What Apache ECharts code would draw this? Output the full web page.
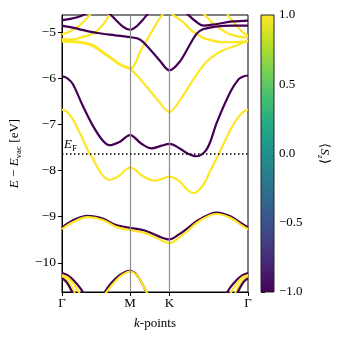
<!DOCTYPE html>
<html>
<head>
<meta charset="utf-8">
<script src="https://cdn.jsdelivr.net/npm/echarts@6/dist/echarts.min.js"></script>
<style>
  html, body { margin: 0; padding: 0; background: #fff; }
  #chart { width: 341px; height: 341px; }
</style>
</head>
<body>
<div id="chart"></div>
<script>
// high-symmetry path Γ - M - K - Γ
const kTicks = [0, 0.577, 0.911, 1.577]
const kLabels = ['Γ', 'M', 'K', 'Γ']
const eTicks = [-10, -9, -8, -7, -6, -5]
const cbTicks = [-1, -0.5, 0, 0.5, 1]
const eFermi = -7.64

// bands: [k, E] pairs, spin is <Sz> (-1 purple, +1 yellow)
const p1 = [[0,-5.96],[0.04,-5.99],[0.09,-6.12],[0.175,-6.59],[0.26,-7.02],[0.345,-7.35],[0.402,-7.45],[0.487,-7.38],[0.577,-7.23],[0.674,-7.42],[0.759,-7.52],[0.844,-7.46],[0.911,-7.42],[0.999,-7.52],[1.065,-7.63],[1.141,-7.69],[1.229,-7.53],[1.314,-6.95],[1.427,-6.30],[1.498,-6.02],[1.537,-5.96],[1.577,-5.94]]
const y1 = [[0,-6.68],[0.04,-6.72],[0.09,-6.88],[0.175,-7.31],[0.232,-7.63],[0.26,-7.73],[0.331,-8.06],[0.402,-8.20],[0.473,-8.13],[0.538,-7.99],[0.577,-7.93],[0.62,-7.98],[0.674,-8.10],[0.787,-8.22],[0.85,-8.18],[0.911,-8.13],[0.96,-8.17],[0.999,-8.24],[1.065,-8.42],[1.116,-8.49],[1.201,-8.30],[1.258,-8.0],[1.314,-7.72],[1.37,-7.42],[1.427,-7.12],[1.484,-6.88],[1.537,-6.73],[1.577,-6.68]]
const p9 = [[0,-9.23],[0.09,-9.08],[0.218,-8.98],[0.345,-9.04],[0.459,-9.18],[0.577,-9.24],[0.702,-9.30],[0.816,-9.42],[0.911,-9.49],[0.999,-9.37],[1.05,-9.28],[1.144,-9.09],[1.257,-8.94],[1.314,-8.91],[1.427,-8.99],[1.52,-9.14],[1.577,-9.23]]
const y9 = [[0,-9.27],[0.09,-9.12],[0.218,-9.01],[0.345,-9.07],[0.459,-9.22],[0.577,-9.29],[0.702,-9.35],[0.816,-9.48],[0.911,-9.57],[0.999,-9.44],[1.05,-9.34],[1.144,-9.13],[1.257,-8.97],[1.314,-8.94],[1.427,-9.02],[1.52,-9.18],[1.577,-9.27]]
const pB1 = [[0,-10.22],[0.05,-10.27],[0.1,-10.38],[0.15,-10.53],[0.19,-10.68],[0.22,-10.8]]
const yB1 = [[0,-10.26],[0.05,-10.32],[0.1,-10.46],[0.14,-10.62],[0.17,-10.76]]
const yB2 = [[0,-10.30],[0.04,-10.37],[0.08,-10.52],[0.12,-10.72]]
const pB2 = [[0,-10.33],[0.04,-10.42],[0.08,-10.6],[0.11,-10.76]]
const pB1r = [[1.577,-10.22],[1.527,-10.27],[1.477,-10.38],[1.427,-10.53],[1.39,-10.68],[1.36,-10.8]]
const yB1r = [[1.577,-10.26],[1.527,-10.32],[1.477,-10.46],[1.437,-10.62],[1.407,-10.76]]
const yB2r = [[1.577,-10.30],[1.537,-10.37],[1.497,-10.52],[1.457,-10.72]]
const pB2r = [[1.577,-10.33],[1.537,-10.42],[1.497,-10.6],[1.467,-10.76]]
const pM = [[0.33,-10.8],[0.36,-10.64],[0.42,-10.43],[0.48,-10.28],[0.53,-10.2],[0.577,-10.17],[0.62,-10.22],[0.66,-10.36],[0.70,-10.55],[0.73,-10.72]]
const yM = [[0.34,-10.8],[0.37,-10.66],[0.43,-10.46],[0.49,-10.30],[0.54,-10.22],[0.577,-10.19],[0.625,-10.24],[0.665,-10.38],[0.705,-10.57],[0.735,-10.72]]
const p2 = [[0,-4.86],[0.1,-4.91],[0.2,-4.97],[0.3,-5.02],[0.45,-5.07],[0.577,-5.11],[0.66,-5.16],[0.745,-5.37],[0.83,-5.62],[0.911,-5.83],[0.995,-5.65],[1.08,-5.29],[1.14,-5.04],[1.195,-4.94],[1.3,-4.88],[1.45,-4.86],[1.577,-4.86]]
const p3 = [[0,-4.74],[0.08,-4.71],[0.16,-4.65],[0.24,-4.55],[0.32,-4.5],[0.4,-4.6],[0.46,-4.75],[0.52,-4.89],[0.577,-4.95],[0.63,-4.88],[0.69,-4.72],[0.75,-4.55],[0.85,-4.4],[1.0,-4.45],[1.06,-4.6],[1.13,-4.76],[1.2,-4.86],[1.3,-4.83],[1.45,-4.77],[1.577,-4.75]]
const y2a = [[0,-5.18],[0.1,-5.2],[0.175,-5.22],[0.26,-5.28],[0.375,-5.48],[0.5,-5.71],[0.577,-5.79],[0.7,-6.13],[0.82,-6.5],[0.911,-6.73],[0.999,-6.48],[1.11,-6.04],[1.224,-5.65],[1.335,-5.43],[1.477,-5.29],[1.577,-5.18]]
const y2b = [[0,-5.2],[0.1,-5.22],[0.175,-5.24],[0.26,-5.3],[0.375,-5.5],[0.5,-5.72],[0.577,-5.79],[0.674,-5.37],[0.759,-5.0],[0.844,-4.65],[0.911,-4.5],[0.93,-4.6],[1.03,-4.79],[1.1,-4.97],[1.16,-5.07],[1.2,-5.13],[1.37,-5.22],[1.577,-5.2]]
const y4 = [[0,-5.15],[0.08,-5.16],[0.175,-5.11],[0.24,-5.06],[0.29,-4.99],[0.35,-4.83],[0.40,-4.64],[0.44,-4.5]]
const y4r = [[1.577,-5.12],[1.5,-5.1],[1.4,-5.02],[1.3,-4.85],[1.2,-4.6],[1.16,-4.5]]
const y5 = [[0,-5.05],[0.07,-4.98],[0.147,-4.86],[0.232,-4.64],[0.27,-4.5]]
const y5r = [[1.577,-5.08],[1.53,-5.0],[1.484,-4.87],[1.42,-4.68],[1.38,-4.5]]

const bands = [
  [p9, -1], [y9, 1],
  [pB1, -1], [yB1, 1], [yB2, 1], [pB2, -1],
  [pB1r, -1], [yB1r, 1], [yB2r, 1], [pB2r, -1],
  [pM, -1], [yM, 1],
  [y1, 1], [p1, -1],
  [y2a, 1], [y2b, 1], [y4, 1], [y4r, 1], [y5, 1], [y5r, 1],
  [p2, -1], [p3, -1]
]

const viridis = ['#440154', '#482475', '#414487', '#355f8d', '#2a788e', '#21918c', '#22a884', '#44bf70', '#7ad151', '#bddf26', '#fde725']
const font = 'Liberation Serif'
const minus = v => String(v).replace('-', '\u2212')

var chart = echarts.init(document.getElementById('chart'))

var series = [
  {
    // M and K guide lines
    type: 'line', data: [], z: 1, silent: true,
    markLine: {
      symbol: 'none', silent: true, animation: false,
      label: { show: false },
      lineStyle: { color: '#8c8c8c', width: 1.2, type: 'solid' },
      data: [{ xAxis: kTicks[1] }, { xAxis: kTicks[2] }]
    }
  }
]
bands.forEach(b => {
  series.push({
    type: 'line', data: b[0], smooth: 0.35, showSymbol: false, z: 3,
    lineStyle: { color: b[1] > 0 ? viridis[10] : viridis[0], width: 2.2 },
    animation: false
  })
})
series.push({
  type: 'line', data: [], z: 5, silent: true,
  markLine: {
    symbol: 'none', silent: true, animation: false,
    lineStyle: { color: '#000', width: 1.5, type: [1.5, 2.5] },
    label: {
      show: true, position: 'insideStartTop', distance: [2, 1],
      formatter: '{i|E}{s|F}',
      rich: {
        i: { fontFamily: font, fontStyle: 'italic', fontSize: 13, color: '#000' },
        s: { fontFamily: font, fontSize: 9, color: '#000', padding: [7, 0, 0, 0] }
      }
    },
    data: [{ yAxis: eFermi }]
  }
})
// colorbar
series.push({
  type: 'line', xAxisIndex: 1, yAxisIndex: 1, data: [[0, -1], [1, 1]],
  showSymbol: false, lineStyle: { opacity: 0 }, silent: true,
  markArea: {
    silent: true,
    itemStyle: {
      borderColor: '#222', borderWidth: 1,
      color: {
        type: 'linear', x: 0, y: 1, x2: 0, y2: 0,
        colorStops: viridis.map((c, i) => ({ offset: i / 10, color: c }))
      }
    },
    data: [[{ xAxis: 0, yAxis: -1 }, { xAxis: 1, yAxis: 1 }]]
  }
})

chart.setOption({
  animation: false,
  grid: [
    { left: 62, top: 15, width: 186, height: 277, show: true, borderColor: '#000', borderWidth: 1 },
    { left: 261, top: 15, width: 13, height: 277 }
  ],
  xAxis: [
    {
      type: 'value', min: 0, max: kTicks[3],
      name: '{i|k}-points', nameLocation: 'middle', nameGap: 25,
      nameTextStyle: { fontFamily: font, fontSize: 13, color: '#000',
        rich: { i: { fontFamily: font, fontStyle: 'italic', fontSize: 13, color: '#000' } } },
      splitLine: { show: false },
      axisLine: { lineStyle: { color: '#000' } },
      axisTick: { customValues: kTicks, length: 4, lineStyle: { color: '#000' } },
      axisLabel: {
        customValues: kTicks, fontFamily: font, fontSize: 13, color: '#000', margin: 5,
        formatter: v => kLabels[kTicks.indexOf(v)]
      }
    },
    { gridIndex: 1, type: 'value', min: 0, max: 1, show: false }
  ],
  yAxis: [
    {
      type: 'value', min: -10.63, max: -4.63,
      name: '{i|E} \u2212 {i|E}{s|vac} [eV]', nameLocation: 'middle', nameGap: 39,
      nameTextStyle: { fontFamily: font, fontSize: 13, color: '#000',
        rich: {
          i: { fontFamily: font, fontStyle: 'italic', fontSize: 13, color: '#000' },
          s: { fontFamily: font, fontSize: 9, color: '#000', padding: [7, 0, 0, 0] }
        } },
      splitLine: { show: false },
      axisLine: { show: true, lineStyle: { color: '#000' } },
      axisTick: { show: true, customValues: eTicks, length: 4, lineStyle: { color: '#000' } },
      axisLabel: {
        customValues: eTicks, fontFamily: font, fontSize: 13.5, color: '#000', margin: 6,
        formatter: v => minus(v)
      }
    },
    {
      gridIndex: 1, type: 'value', min: -1, max: 1, interval: 0.5, position: 'right',
      name: '\u27e8{i|S}{s|z}\u27e9', nameLocation: 'middle', nameGap: 42, nameRotate: -90,
      nameTextStyle: { fontFamily: font, fontSize: 13, color: '#000',
        rich: {
          i: { fontFamily: font, fontStyle: 'italic', fontSize: 13, color: '#000' },
          s: { fontFamily: font, fontStyle: 'italic', fontSize: 9, color: '#000', padding: [7, 0, 0, 0] }
        } },
      splitLine: { show: false },
      axisLine: { show: false },
      axisTick: { show: true, length: 4, lineStyle: { color: '#000' } },
      axisLabel: {
        fontFamily: font, fontSize: 13, color: '#000', margin: 5,
        formatter: v => minus(v.toFixed(1))
      }
    }
  ],
  series: series
})
</script>
</body>
</html>
